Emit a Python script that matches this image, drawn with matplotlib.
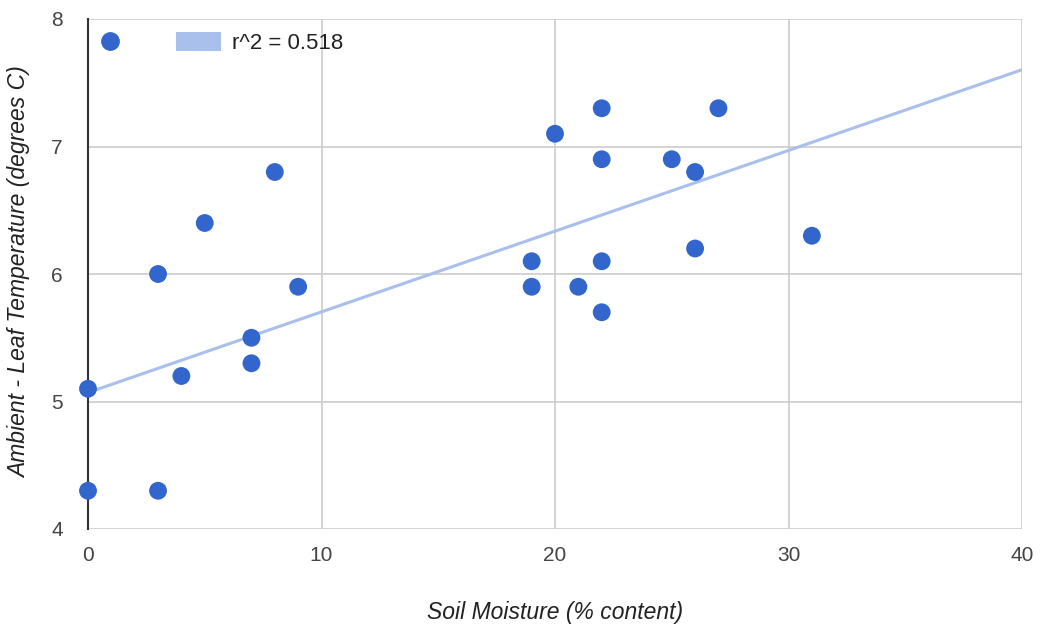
import numpy as np
import matplotlib.pyplot as plt
from matplotlib.lines import Line2D
from matplotlib.patches import Patch

plt.rcParams['font.family'] = ['Liberation Sans', 'DejaVu Sans']

# Soil moisture (% content) vs ambient - leaf temperature
moisture = [0, 0, 3, 3, 4, 5, 7, 7, 8, 9, 19, 19, 20, 21, 22, 22, 22, 22, 25, 26, 26, 27, 31]
temp_diff = [5.1, 4.3, 6.0, 4.3, 5.2, 6.4, 5.5, 5.3, 6.8, 5.9, 6.1, 5.9, 7.1, 5.9,
             7.3, 6.9, 6.1, 5.7, 6.9, 6.8, 6.2, 7.3, 6.3]
x_ticks = [0, 10, 20, 30, 40]
y_ticks = [4, 5, 6, 7, 8]

# trendline
trend_intercept = 5.07
trend_slope = 0.0633
r2_label = 'r^2 = 0.518'

dot_col = '#3366cc'
trend_col = '#a9bfec'

W, H = 1040, 627
fig = plt.figure(figsize=(W / 100, H / 100), dpi=100)
ax = fig.add_axes([88 / W, 1 - 529 / H, 934 / W, 510 / H])

xs = np.array([x_ticks[0], x_ticks[-1]])
ax.plot(xs, trend_intercept + trend_slope * xs, color=trend_col, lw=2.2, zorder=2)
ax.scatter(moisture, temp_diff, s=165, color=dot_col, edgecolors='none', zorder=3, clip_on=False)

ax.set_xlim(x_ticks[0], x_ticks[-1])
ax.set_ylim(y_ticks[0], y_ticks[-1])
ax.set_xticks(x_ticks)
ax.set_yticks(y_ticks)
ax.grid(True, color='#cccccc', lw=1.2)
ax.set_axisbelow(True)
for s in ['top', 'right', 'bottom']:
    ax.spines[s].set_visible(False)
ax.spines['left'].set_color('#333333')
ax.spines['left'].set_linewidth(1.5)
ax.spines['left'].set_zorder(2.5)
ax.tick_params(axis='x', length=0, labelsize=15, colors='#444444', pad=12)
ax.tick_params(axis='y', length=0, labelsize=15, colors='#444444', pad=18)

ax.set_xlabel('Soil Moisture (% content)', fontsize=16.5, style='italic', color='#222222', va='center')
ax.set_ylabel('Ambient - Leaf Temperature (degrees C)', fontsize=16.5, style='italic',
              color='#222222', va='center')
ax.xaxis.set_label_coords(555 / W, 1 - 612 / H, transform=fig.transFigure)
ax.yaxis.set_label_coords(20 / W, 1 - 272 / H, transform=fig.transFigure)

handles = [Line2D([], [], ls='none', marker='o', ms=12.5, color=dot_col),
           Patch(facecolor=trend_col, edgecolor='none')]
ax.legend(handles, ['', r2_label], ncol=2, loc='center left', frameon=False,
          fontsize=16, bbox_to_anchor=(87.5 / W, 1 - 43 / H), bbox_transform=fig.transFigure,
          borderpad=0, borderaxespad=0, handlelength=2.0, handleheight=0.9,
          columnspacing=1.5, handletextpad=0.5, labelcolor='#222222')

fig.savefig('out.png', dpi=100)
